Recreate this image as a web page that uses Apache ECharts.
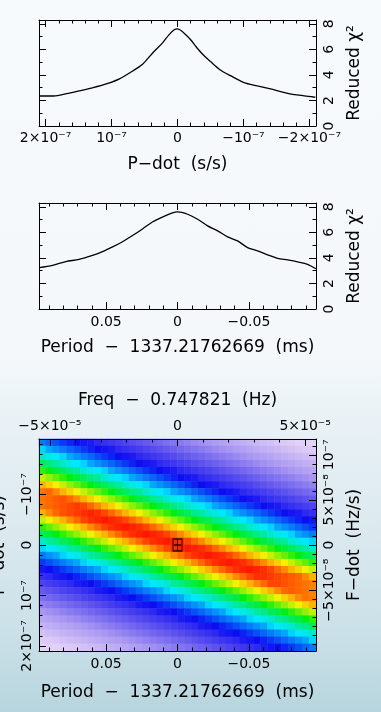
<!DOCTYPE html>
<html>
<head>
<meta charset="utf-8">
<script src="https://cdn.jsdelivr.net/npm/echarts@6/dist/echarts.min.js"></script>
<style>
html,body{margin:0;padding:0;}
#wrap{width:381px;height:712px;overflow:hidden;
  background:linear-gradient(180deg,#f6fafd 0%,#f4f8fb 50%,#eaf2f6 58%,#dbe9ef 75%,#c9dfe7 90%,#b7d5de 100%);}
#chart{width:381px;height:712px;}
</style>
</head>
<body>
<div id="wrap"><div id="chart"></div></div>
<script>
// ---------------- DATA ----------------
// Top panel: reduced chi^2 versus P-dot (s/s)
const pdotCurveX = [2.09e-7, 1.88e-7, 1.68e-7, 1.49e-7, 1.28e-7, 1.08e-7, 0.88e-7, 0.68e-7, 0.53e-7, 0.38e-7, 0.23e-7, 0.13e-7, 0.05e-7, 0,
  -0.10e-7, -0.20e-7, -0.30e-7, -0.40e-7, -0.50e-7, -0.65e-7, -0.81e-7, -1.01e-7, -1.21e-7, -1.41e-7, -1.61e-7, -1.81e-7, -2.06e-7, -2.09e-7];
const pdotCurveChi2 = [2.35, 2.35, 2.53, 2.75, 3.00, 3.29, 3.69, 4.31, 4.84, 5.70, 6.49, 7.14, 7.53, 7.60,
  7.27, 6.75, 6.09, 5.52, 5.05, 4.39, 3.92, 3.40, 3.14, 2.90, 2.64, 2.43, 2.27, 2.25];

// Middle panel: reduced chi^2 versus Period - 1337.21762669 (ms)
const periodCurveX = [0.0969, 0.0875, 0.0782, 0.0689, 0.0595, 0.0525, 0.0455, 0.0385, 0.0315, 0.0245, 0.0176, 0.0106, 0.0036, 0,
  -0.0071, -0.0141, -0.0211, -0.0281, -0.0351, -0.0421, -0.0491, -0.0561, -0.0631, -0.0701, -0.0771, -0.0841, -0.0911, -0.0969];
const periodCurveChi2 = [3.24, 3.42, 3.71, 3.89, 4.20, 4.49, 4.86, 5.27, 5.75, 6.27, 6.81, 7.20, 7.52, 7.60,
  7.42, 7.03, 6.51, 6.12, 5.65, 5.33, 4.81, 4.55, 4.24, 3.97, 3.84, 3.69, 3.50, 3.15];

// Bottom panel: chi^2 level map, 30 rows (top -> bottom, P-dot) x 40 columns (left -> right, period)
const heatRows = [
  [4.5,4.4,4.3,4.2,4.1,4.0,3.9,3.8,3.6,3.5,3.4,3.3,3.2,3.1,3.0,2.9,2.8,2.7,2.6,2.5,2.4,2.3,2.2,2.1,2.0,1.9,1.8,1.7,1.6,1.5,1.4,1.3,1.2,1.1,1.0,0.9,0.8,0.7,0.7,0.6],
  [4.9,4.7,4.6,4.5,4.4,4.3,4.2,4.1,4.0,3.9,3.8,3.6,3.5,3.4,3.3,3.2,3.1,3.0,2.9,2.8,2.7,2.6,2.5,2.4,2.3,2.2,2.1,2.0,1.9,1.8,1.7,1.6,1.5,1.4,1.3,1.2,1.1,1.0,0.9,0.8],
  [5.2,5.1,5.0,4.9,4.7,4.6,4.5,4.4,4.3,4.2,4.1,4.0,3.9,3.8,3.6,3.5,3.4,3.3,3.2,3.1,3.0,2.9,2.8,2.7,2.6,2.5,2.4,2.3,2.2,2.1,2.0,1.9,1.8,1.7,1.6,1.5,1.4,1.3,1.2,1.1],
  [5.7,5.5,5.4,5.2,5.1,5.0,4.9,4.7,4.6,4.5,4.4,4.3,4.2,4.1,4.0,3.9,3.8,3.6,3.5,3.4,3.3,3.2,3.1,3.0,2.9,2.8,2.7,2.6,2.5,2.4,2.3,2.2,2.1,2.0,1.9,1.8,1.7,1.6,1.5,1.4],
  [6.2,6.0,5.8,5.7,5.5,5.4,5.2,5.1,5.0,4.9,4.7,4.6,4.5,4.4,4.3,4.2,4.1,4.0,3.9,3.8,3.6,3.5,3.4,3.3,3.2,3.1,3.0,2.9,2.8,2.7,2.6,2.5,2.4,2.3,2.2,2.1,2.0,1.9,1.8,1.7],
  [6.8,6.6,6.4,6.2,6.0,5.8,5.7,5.5,5.4,5.2,5.1,5.0,4.9,4.7,4.6,4.5,4.4,4.3,4.2,4.1,4.0,3.9,3.8,3.6,3.5,3.4,3.3,3.2,3.1,3.0,2.9,2.8,2.7,2.6,2.5,2.4,2.3,2.2,2.1,2.0],
  [7.6,7.3,7.0,6.8,6.6,6.4,6.2,6.0,5.8,5.7,5.5,5.4,5.2,5.1,5.0,4.9,4.7,4.6,4.5,4.4,4.3,4.2,4.1,4.0,3.9,3.8,3.6,3.5,3.4,3.3,3.2,3.1,3.0,2.9,2.8,2.7,2.6,2.5,2.4,2.3],
  [8.2,8.3,8.0,7.6,7.3,7.0,6.8,6.6,6.4,6.2,6.0,5.8,5.7,5.5,5.4,5.2,5.1,5.0,4.9,4.7,4.6,4.5,4.4,4.3,4.2,4.1,4.0,3.9,3.8,3.6,3.5,3.4,3.3,3.2,3.1,3.0,2.9,2.8,2.7,2.6],
  [8.2,8.3,8.4,8.5,8.3,8.0,7.6,7.3,7.0,6.8,6.6,6.4,6.2,6.0,5.8,5.7,5.5,5.4,5.2,5.1,5.0,4.9,4.7,4.6,4.5,4.4,4.3,4.2,4.1,4.0,3.9,3.8,3.6,3.5,3.4,3.3,3.2,3.1,3.0,2.9],
  [8.2,8.3,8.4,8.5,8.6,8.7,8.6,8.3,8.0,7.6,7.3,7.0,6.8,6.6,6.4,6.2,6.0,5.8,5.7,5.5,5.4,5.2,5.1,5.0,4.9,4.7,4.6,4.5,4.4,4.3,4.2,4.1,4.0,3.9,3.8,3.6,3.5,3.4,3.3,3.2],
  [7.6,8.0,8.3,8.5,8.6,8.7,8.8,8.9,8.8,8.6,8.3,8.0,7.6,7.3,7.0,6.8,6.6,6.4,6.2,6.0,5.8,5.7,5.5,5.4,5.2,5.1,5.0,4.9,4.7,4.6,4.5,4.4,4.3,4.2,4.1,4.0,3.9,3.8,3.6,3.5],
  [6.8,7.0,7.3,7.6,8.0,8.3,8.6,8.8,8.9,9.0,8.9,8.8,8.6,8.3,8.0,7.6,7.3,7.0,6.8,6.6,6.4,6.2,6.0,5.8,5.7,5.5,5.4,5.2,5.1,5.0,4.9,4.7,4.6,4.5,4.4,4.3,4.2,4.1,4.0,3.9],
  [6.2,6.4,6.6,6.8,7.0,7.3,7.6,8.0,8.3,8.6,8.8,8.9,9.0,8.9,8.8,8.6,8.3,8.0,7.6,7.3,7.0,6.8,6.6,6.4,6.2,6.0,5.8,5.7,5.5,5.4,5.2,5.1,5.0,4.9,4.7,4.6,4.5,4.4,4.3,4.2],
  [5.7,5.8,6.0,6.2,6.4,6.6,6.8,7.0,7.3,7.6,8.0,8.3,8.6,8.8,8.9,9.0,8.9,8.8,8.6,8.3,8.0,7.6,7.3,7.0,6.8,6.6,6.4,6.2,6.0,5.8,5.7,5.5,5.4,5.2,5.1,5.0,4.9,4.7,4.6,4.5],
  [5.2,5.4,5.5,5.7,5.8,6.0,6.2,6.4,6.6,6.8,7.0,7.3,7.6,8.0,8.3,8.6,8.8,8.9,9.0,8.9,8.8,8.6,8.3,8.0,7.6,7.3,7.0,6.8,6.6,6.4,6.2,6.0,5.8,5.7,5.5,5.4,5.2,5.1,5.0,4.9],
  [4.9,5.0,5.1,5.2,5.4,5.5,5.7,5.8,6.0,6.2,6.4,6.6,6.8,7.0,7.3,7.6,8.0,8.3,8.6,8.8,8.9,9.0,8.9,8.8,8.6,8.3,8.0,7.6,7.3,7.0,6.8,6.6,6.4,6.2,6.0,5.8,5.7,5.5,5.4,5.2],
  [4.5,4.6,4.7,4.9,5.0,5.1,5.2,5.4,5.5,5.7,5.8,6.0,6.2,6.4,6.6,6.8,7.0,7.3,7.6,8.0,8.3,8.6,8.8,8.9,9.0,8.9,8.8,8.6,8.3,8.0,7.6,7.3,7.0,6.8,6.6,6.4,6.2,6.0,5.8,5.7],
  [4.2,4.3,4.4,4.5,4.6,4.7,4.9,5.0,5.1,5.2,5.4,5.5,5.7,5.8,6.0,6.2,6.4,6.6,6.8,7.0,7.3,7.6,8.0,8.3,8.6,8.8,8.9,9.0,8.9,8.8,8.6,8.3,8.0,7.6,7.3,7.0,6.8,6.6,6.4,6.2],
  [3.9,4.0,4.1,4.2,4.3,4.4,4.5,4.6,4.7,4.9,5.0,5.1,5.2,5.4,5.5,5.7,5.8,6.0,6.2,6.4,6.6,6.8,7.0,7.3,7.6,8.0,8.3,8.6,8.8,8.9,9.0,8.9,8.8,8.6,8.3,8.0,7.6,7.3,7.0,6.8],
  [3.5,3.6,3.8,3.9,4.0,4.1,4.2,4.3,4.4,4.5,4.6,4.7,4.9,5.0,5.1,5.2,5.4,5.5,5.7,5.8,6.0,6.2,6.4,6.6,6.8,7.0,7.3,7.6,8.0,8.3,8.6,8.8,8.8,8.7,8.6,8.5,8.4,8.3,8.0,7.6],
  [3.2,3.3,3.4,3.5,3.6,3.8,3.9,4.0,4.1,4.2,4.3,4.4,4.5,4.6,4.7,4.9,5.0,5.1,5.2,5.4,5.5,5.7,5.8,6.0,6.2,6.4,6.6,6.8,7.0,7.3,7.6,8.0,8.3,8.6,8.6,8.5,8.4,8.3,8.2,8.1],
  [2.9,3.0,3.1,3.2,3.3,3.4,3.5,3.6,3.8,3.9,4.0,4.1,4.2,4.3,4.4,4.5,4.6,4.7,4.9,5.0,5.1,5.2,5.4,5.5,5.7,5.8,6.0,6.2,6.4,6.6,6.8,7.0,7.3,7.6,8.0,8.3,8.4,8.3,8.2,8.1],
  [2.6,2.7,2.8,2.9,3.0,3.1,3.2,3.3,3.4,3.5,3.6,3.8,3.9,4.0,4.1,4.2,4.3,4.4,4.5,4.6,4.7,4.9,5.0,5.1,5.2,5.4,5.5,5.7,5.8,6.0,6.2,6.4,6.6,6.8,7.0,7.3,7.6,8.0,8.2,8.1],
  [2.3,2.4,2.5,2.6,2.7,2.8,2.9,3.0,3.1,3.2,3.3,3.4,3.5,3.6,3.8,3.9,4.0,4.1,4.2,4.3,4.4,4.5,4.6,4.7,4.9,5.0,5.1,5.2,5.4,5.5,5.7,5.8,6.0,6.2,6.4,6.6,6.8,7.0,7.3,7.6],
  [2.0,2.1,2.2,2.3,2.4,2.5,2.6,2.7,2.8,2.9,3.0,3.1,3.2,3.3,3.4,3.5,3.6,3.8,3.9,4.0,4.1,4.2,4.3,4.4,4.5,4.6,4.7,4.9,5.0,5.1,5.2,5.4,5.5,5.7,5.8,6.0,6.2,6.4,6.6,6.8],
  [1.7,1.8,1.9,2.0,2.1,2.2,2.3,2.4,2.5,2.6,2.7,2.8,2.9,3.0,3.1,3.2,3.3,3.4,3.5,3.6,3.8,3.9,4.0,4.1,4.2,4.3,4.4,4.5,4.6,4.7,4.9,5.0,5.1,5.2,5.4,5.5,5.7,5.8,6.0,6.2],
  [1.4,1.5,1.6,1.7,1.8,1.9,2.0,2.1,2.2,2.3,2.4,2.5,2.6,2.7,2.8,2.9,3.0,3.1,3.2,3.3,3.4,3.5,3.6,3.8,3.9,4.0,4.1,4.2,4.3,4.4,4.5,4.6,4.7,4.9,5.0,5.1,5.2,5.4,5.5,5.7],
  [1.1,1.2,1.3,1.4,1.5,1.6,1.7,1.8,1.9,2.0,2.1,2.2,2.3,2.4,2.5,2.6,2.7,2.8,2.9,3.0,3.1,3.2,3.3,3.4,3.5,3.6,3.8,3.9,4.0,4.1,4.2,4.3,4.4,4.5,4.6,4.7,4.9,5.0,5.1,5.2],
  [0.8,0.9,1.0,1.1,1.2,1.3,1.4,1.5,1.6,1.7,1.8,1.9,2.0,2.1,2.2,2.3,2.4,2.5,2.6,2.7,2.8,2.9,3.0,3.1,3.2,3.3,3.4,3.5,3.6,3.8,3.9,4.0,4.1,4.2,4.3,4.4,4.5,4.6,4.7,4.9],
  [0.6,0.7,0.7,0.8,0.9,1.0,1.1,1.2,1.3,1.4,1.5,1.6,1.7,1.8,1.9,2.0,2.1,2.2,2.3,2.4,2.5,2.6,2.7,2.8,2.9,3.0,3.1,3.2,3.3,3.4,3.5,3.6,3.8,3.9,4.0,4.1,4.2,4.3,4.4,4.5]
];
// Best-fit marker: [period offset (ms), P-dot (s/s)]
const bestFit = [[0, 0]];

// Tick values and their labels
const chi2TickValues = [0, 2, 4, 6, 8];
const chi2TickLabels = ['0', '2', '4', '6', '8'];
const pdotTickValues = [2e-7, 1e-7, 0, -1e-7, -2e-7];
const pdotTickLabels = ['2×10⁻⁷', '10⁻⁷', '0', '−10⁻⁷', '−2×10⁻⁷'];
const periodTickValues = [0.05, 0, -0.05];
const periodTickLabels = ['0.05', '0', '−0.05'];
const freqTickValues = [-5e-5, 0, 5e-5];
const freqTickLabels = ['−5×10⁻⁵', '0', '5×10⁻⁵'];
const fdotTickValues = [1e-7, 5e-8, 0, -5e-8, -1e-7];
const fdotTickLabels = ['10⁻⁷', '5×10⁻⁸', '0', '−5×10⁻⁸', '−10⁻⁷'];

// ---------------- LAYOUT / STYLE ----------------
const FONT = '"DejaVu Sans", sans-serif';
const INK = '#000';
const PDOT_LIM = 2.1e-7, PERIOD_LIM = 0.097, FREQ_LIM = 5.425e-5, FDOT_LIM = 1.175e-7, CHI2_MAX = 8.3;
const heatColors = ['#f6e6f8', '#d8c6f6', '#a897f2', '#5e52ee', '#0d0df2', '#00e8ff', '#00ee10', '#f2f200', '#ff8a00', '#ff1800'];

function pick(vals, labels) {
  return function (v) {
    let best = 0, bd = Infinity;
    for (let i = 0; i < vals.length; i++) { const d = Math.abs(vals[i] - v); if (d < bd) { bd = d; best = i; } }
    return labels[best];
  };
}
function steps(step, limit) {
  const out = [], n = Math.floor(limit / step + 1e-6);
  for (let k = -n; k <= n; k++) out.push(Number((k * step).toPrecision(6)));
  return out;
}

const grids = [], xAxes = [], yAxes = [];
function addGrid(r) {
  grids.push({ left: r.left, top: r.top, width: r.width, height: r.height, show: false, containLabel: false, outerBoundsMode: 'none' });
  return grids.length - 1;
}
function valueAxis(o) {
  const ax = {
    type: 'value', gridIndex: o.grid, position: o.pos, min: o.min, max: o.max, inverse: !!o.inverse, z: 10,
    axisLine: { show: !!o.line, onZero: false, lineStyle: { color: INK, width: 1 } },
    axisTick: { show: true, inside: true, length: o.tickLen, customValues: o.tickValues, lineStyle: { color: INK, width: 1 } },
    minorTick: { show: false }, splitLine: { show: false }, splitArea: { show: false },
    axisLabel: { show: false }, axisPointer: { show: false }
  };
  if (o.labelValues) {
    ax.axisLabel = { show: true, customValues: o.labelValues, formatter: pick(o.labelValues, o.labelTexts),
      color: INK, fontFamily: FONT, fontSize: 14, margin: o.margin, rotate: o.rotate || 0, hideOverlap: false };
  }
  if (o.name) {
    ax.name = o.name; ax.nameLocation = 'middle'; ax.nameGap = o.nameGap;
    if (o.nameRotate !== undefined) ax.nameRotate = o.nameRotate;
    ax.nameTextStyle = { color: INK, fontFamily: FONT, fontSize: 17 };
  }
  return ax;
}
function addPanel(rect, cfg) {
  const gMaj = addGrid(rect), gMin = addGrid(rect), idx = {};
  [['bottom', xAxes], ['top', xAxes], ['left', yAxes], ['right', yAxes]].forEach(([side, list]) => {
    const s = cfg[side];
    idx[side] = list.length;
    list.push(valueAxis(Object.assign({}, s, { grid: gMaj, pos: side, tickValues: s.major, tickLen: 7, line: true })));
    list.push(valueAxis({ grid: gMin, pos: side, min: s.min, max: s.max, inverse: s.inverse, tickValues: s.minor, tickLen: 3.5, line: false }));
  });
  return idx;
}

const chi2Minor = [0, 1, 2, 3, 4, 5, 6, 7, 8];

const P1 = addPanel({ left: 39, top: 20, width: 277, height: 106 }, {
  bottom: { min: -PDOT_LIM, max: PDOT_LIM, inverse: true, major: pdotTickValues, minor: steps(2e-8, PDOT_LIM),
    labelValues: pdotTickValues, labelTexts: pdotTickLabels, margin: 5, name: 'P−dot  (s/s)', nameGap: 30 },
  top: { min: -PDOT_LIM, max: PDOT_LIM, inverse: true, major: pdotTickValues, minor: steps(2e-8, PDOT_LIM) },
  left: { min: 0, max: CHI2_MAX, major: chi2TickValues, minor: chi2Minor },
  right: { min: 0, max: CHI2_MAX, major: chi2TickValues, minor: chi2Minor,
    labelValues: chi2TickValues, labelTexts: chi2TickLabels, margin: 6, rotate: 90, name: 'Reduced χ²', nameGap: 30, nameRotate: 90 }
});
const P2 = addPanel({ left: 39, top: 203, width: 277, height: 106 }, {
  bottom: { min: -PERIOD_LIM, max: PERIOD_LIM, inverse: true, major: steps(0.05, PERIOD_LIM), minor: steps(0.01, PERIOD_LIM),
    labelValues: periodTickValues, labelTexts: periodTickLabels, margin: 6, name: 'Period  −  1337.21762669  (ms)', nameGap: 30 },
  top: { min: -PERIOD_LIM, max: PERIOD_LIM, inverse: true, major: steps(0.05, PERIOD_LIM), minor: steps(0.01, PERIOD_LIM) },
  left: { min: 0, max: CHI2_MAX, major: chi2TickValues, minor: chi2Minor },
  right: { min: 0, max: CHI2_MAX, major: chi2TickValues, minor: chi2Minor,
    labelValues: chi2TickValues, labelTexts: chi2TickLabels, margin: 6, rotate: 90, name: 'Reduced χ²', nameGap: 30, nameRotate: 90 }
});

// heatmap cells on hidden category axes sharing the bottom panel's rectangle
const HEAT_RECT = { left: 39, top: 439, width: 277, height: 212 };
const gHeat = addGrid(HEAT_RECT);
const hx = xAxes.length;
xAxes.push({ type: 'category', gridIndex: gHeat, show: false, data: heatRows[0].map((_, i) => i), boundaryGap: true });
const hy = yAxes.length;
yAxes.push({ type: 'category', gridIndex: gHeat, show: false, inverse: true, data: heatRows.map((_, j) => j), boundaryGap: true });

const P3 = addPanel(HEAT_RECT, {
  bottom: { min: -PERIOD_LIM, max: PERIOD_LIM, inverse: true, major: steps(0.05, PERIOD_LIM), minor: steps(0.01, PERIOD_LIM),
    labelValues: periodTickValues, labelTexts: periodTickLabels, margin: 6, name: 'Period  −  1337.21762669  (ms)', nameGap: 33 },
  top: { min: -FREQ_LIM, max: FREQ_LIM, major: steps(5e-5, FREQ_LIM), minor: steps(1e-5, FREQ_LIM),
    labelValues: freqTickValues, labelTexts: freqTickLabels, margin: 6, name: 'Freq  −  0.747821  (Hz)', nameGap: 30 },
  left: { min: -PDOT_LIM, max: PDOT_LIM, inverse: true, major: steps(1e-7, PDOT_LIM), minor: steps(2e-8, PDOT_LIM),
    labelValues: pdotTickValues, labelTexts: pdotTickLabels, margin: 5, rotate: 90, name: 'P−dot  (s/s)', nameGap: 31, nameRotate: 90 },
  right: { min: -FDOT_LIM, max: FDOT_LIM, major: steps(5e-8, FDOT_LIM), minor: steps(1e-8, FDOT_LIM),
    labelValues: fdotTickValues, labelTexts: fdotTickLabels, margin: 6, rotate: 90, name: 'F−dot  (Hz/s)', nameGap: 30, nameRotate: 90 }
});

const heatData = [];
heatRows.forEach((row, j) => row.forEach((v, i) => heatData.push([i, j, v])));

const chart = echarts.init(document.getElementById('chart'), null, { renderer: 'canvas', devicePixelRatio: 1 });
chart.setOption({
  animation: false,
  backgroundColor: 'transparent',
  textStyle: { fontFamily: FONT },
  grid: grids,
  xAxis: xAxes,
  yAxis: yAxes,
  visualMap: { type: 'continuous', show: false, seriesIndex: 2, dimension: 2, min: 0, max: 9, inRange: { color: heatColors } },
  series: [
    { type: 'line', xAxisIndex: P1.bottom, yAxisIndex: P1.right, symbol: 'none', smooth: 0.3, z: 5,
      lineStyle: { color: INK, width: 1.3 }, data: pdotCurveX.map((x, i) => [x, pdotCurveChi2[i]]) },
    { type: 'line', xAxisIndex: P2.bottom, yAxisIndex: P2.right, symbol: 'none', smooth: 0.3, z: 5,
      lineStyle: { color: INK, width: 1.3 }, data: periodCurveX.map((x, i) => [x, periodCurveChi2[i]]) },
    { type: 'heatmap', xAxisIndex: hx, yAxisIndex: hy, data: heatData, progressive: 0, z: 2,
      itemStyle: { borderWidth: 0 }, emphasis: { disabled: true } },
    { type: 'scatter', xAxisIndex: P3.bottom, yAxisIndex: P3.left, z: 8, data: bestFit,
      symbol: 'path://M0,0L10,0L10,13L0,13Z M5,0L5,13 M1,6.5L9,6.5', symbolSize: [9, 12], symbolKeepAspect: false,
      itemStyle: { color: 'rgba(0,0,0,0)', borderColor: INK, borderWidth: 1.2 }, emphasis: { disabled: true } }
  ]
});
</script>
</body>
</html>
